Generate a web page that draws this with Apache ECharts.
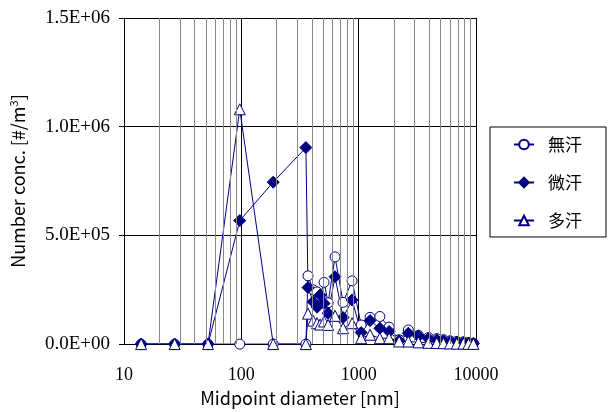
<!DOCTYPE html>
<html>
<head>
<meta charset="utf-8">
<script src="https://cdn.jsdelivr.net/npm/echarts@6/dist/echarts.min.js"></script>
<style>
  html, body { margin: 0; padding: 0; background: #fff; }
  #chart { width: 609px; height: 412px; }
</style>
</head>
<body>
<div id="chart"></div>
<script>
// midpoint diameter [nm]
var diameters = [14, 27, 52, 97, 187, 355,
    370, 409, 442, 469, 507, 549, 629, 736, 879, 1050, 1250, 1515, 1817,
    2210, 2650, 3230, 3930, 4630, 5280, 6010, 6860, 7810, 8620, 9500];
// 無汗
var noSweat = [0, 0, 0, 0, 0, 0,
    314000, 250000, 240000, 220000, 284000, 190000, 401000, 192000, 291000, 88000, 123000, 127000, 78000,
    20000, 65000, 40000, 30000, 25000, 20000, 15000, 12000, 10000, 6000, 4000];
// 微汗
var lightSweat = [0, 0, 0, 568000, 745000, 904000,
    260000, 195000, 170000, 226000, 187000, 142000, 310000, 122000, 203000, 53000, 108000, 73000, 58000,
    15000, 50000, 38000, 25000, 20000, 15000, 12000, 10000, 7000, 5000, 3000];
// 多汗
var heavySweat = [0, 0, 0, 1080000, 0, 0,
    140000, 108000, 96000, 90000, 104000, 88000, 130000, 73000, 96000, 27000, 43000, 27000, 27000,
    12000, 12000, 8000, 6000, 5000, 4000, 3000, 2000, 2000, 1000, 1000];
var seriesNames = ['無汗', '微汗', '多汗'];
// minor vertical grid lines of the log axis
var minorGrid = [20, 30, 40, 50, 60, 70, 80, 90,
    200, 300, 400, 500, 600, 700, 800, 900,
    2000, 3000, 4000, 5000, 6000, 7000, 8000, 9000];

void function () {
    var myChart = echarts.init(document.getElementById('chart'));
    var navy = '#000080';
    var sans = "'Noto Sans CJK JP', 'Liberation Sans', sans-serif";
    var serif = "'Liberation Serif', 'DejaVu Serif', serif";

    function pairs(vals) {
        return diameters.map(function (d, i) { return [d, vals[i]]; });
    }

    // 1.5E+06 style labels
    function sci(v) {
        if (v === 0) return '0.0E+00';
        var e = Math.floor(Math.log10(v));
        var m = v / Math.pow(10, e);
        return m.toFixed(1) + 'E+' + String(e).padStart(2, '0');
    }

    var option = {
        animation: false,
        backgroundColor: '#fff',
        grid: {
            left: 124,
            right: 133,
            top: 18,
            bottom: 66,
            containLabel: false
        },
        legend: {
            orient: 'vertical',
            left: 490,
            top: 127,
            padding: [9, 24, 8, 23],
            itemGap: 21,
            itemWidth: 20,
            itemHeight: 12,
            borderColor: '#000',
            borderWidth: 1,
            backgroundColor: '#fff',
            textStyle: {
                fontFamily: sans,
                fontSize: 17,
                color: '#000',
                padding: [0, 0, 0, 9]
            },
            data: seriesNames
        },
        xAxis: {
            type: 'log',
            logBase: 10,
            min: 10,
            max: 10000,
            name: 'Midpoint diameter [nm]',
            nameLocation: 'middle',
            nameGap: 44,
            nameTextStyle: {
                fontFamily: sans,
                fontSize: 18,
                color: '#000'
            },
            axisLine: { show: true, lineStyle: { color: '#000', width: 1 } },
            axisTick: { show: false },
            axisLabel: {
                margin: 22,
                fontFamily: serif,
                fontSize: 18,
                color: '#000',
                formatter: function (v) { return String(Math.round(v)); }
            },
            splitLine: { show: true, lineStyle: { color: '#000', width: 1 } }
        },
        yAxis: {
            type: 'value',
            min: 0,
            max: 1500000,
            interval: 500000,
            name: '{a|Number conc. [#/m}{s|3}{a|]}',
            nameLocation: 'middle',
            nameGap: 96,
            nameTextStyle: {
                rich: {
                    a: { fontFamily: sans, fontSize: 18, color: '#000' },
                    s: { fontFamily: sans, fontSize: 11, color: '#000', padding: [0, 0, 9, 0] }
                }
            },
            axisLine: { show: true, lineStyle: { color: '#000', width: 1 } },
            axisTick: { show: true, inside: false, length: 5, lineStyle: { color: '#000' } },
            axisLabel: {
                margin: 14,
                fontFamily: serif,
                fontSize: 19,
                color: '#000',
                formatter: sci
            },
            splitLine: { show: true, lineStyle: { color: '#000', width: 1 } }
        },
        series: [
            {
                name: 'grid',
                type: 'line',
                data: [],
                silent: true,
                z: 1,
                markLine: {
                    silent: true,
                    symbol: ['none', 'none'],
                    label: { show: false },
                    lineStyle: { color: '#888', width: 1, type: 'solid' },
                    emphasis: { disabled: true },
                    data: minorGrid.map(function (v) { return { xAxis: v }; })
                }
            },
            {
                name: seriesNames[0],
                type: 'line',
                data: pairs(noSweat),
                symbol: 'circle',
                symbolSize: 10,
                lineStyle: { color: navy, width: 1 },
                itemStyle: { color: '#fff', borderColor: navy, borderWidth: 1 }
            },
            {
                name: seriesNames[1],
                type: 'line',
                data: pairs(lightSweat),
                symbol: 'diamond',
                symbolSize: 12,
                lineStyle: { color: navy, width: 1 },
                itemStyle: { color: navy, borderColor: navy, borderWidth: 1 }
            },
            {
                name: seriesNames[2],
                type: 'line',
                data: pairs(heavySweat),
                symbol: 'triangle',
                symbolSize: 11,
                lineStyle: { color: navy, width: 1 },
                itemStyle: { color: '#fff', borderColor: navy, borderWidth: 1 }
            }
        ]
    };

    myChart.setOption(option);
}()
</script>
</body>
</html>
